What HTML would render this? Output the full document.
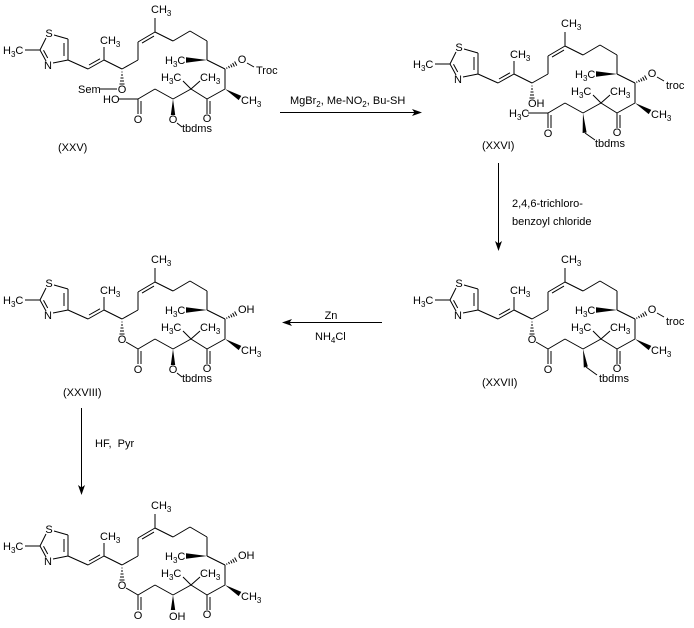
<!DOCTYPE html>
<html><head><meta charset="utf-8"><style>
html,body{margin:0;padding:0;background:#fff;}
svg{display:block;}
text{font-family:"Liberation Sans",Arial,sans-serif;font-size:11px;fill:#000;}
.s{font-size:8px;}
</style></head><body>
<svg width="694" height="628" viewBox="0 0 694 628" xmlns="http://www.w3.org/2000/svg">
<defs>
<g id="sk">
 <g stroke="#000" stroke-width="1" fill="none">
  <path d="M25,50L40,50 M40,50L46,38 M40,50L46,61 M43.5,50.3L47.7,58 M53,63L68,60 M54,35L68,39 M68,39L68,60 M64,43L64,56 M68,60L88,69 M88,69L104,60 M89,65L100,58.8 M104,60L104,47 M104,60L122,69 M122,69L138,60 M138,60L138,42 M138,42L155,32 M142,43.1L154,36.1 M155,32L155,18 M155,32L173,41 M173,41L190,31 M190,31L207,41 M207,41L207,60 M207,60L225,69 M225,69L225,89 M225,89L207,99 M207,99L207,114 M210,101L210,114 M207,99L191,89 M191,89L183,81 M191,89L200,81 M191,89L173,99 M173,99L155,89 M155,89L138,99 M138,99L138,114 M141,101L141,114"/>
  <path d="M121.5,72L122.5,72 M121,75L123,75 M120.5,78L123.5,78 M120,81L124,81 M119.5,84L124.5,84"/>
  <path d="M226.5,67.5L227.1,68.7 M228.5,65.9L229.5,68.1 M230.6,64.5L232,67.3 M232.6,63L234.4,66.6 M234.6,61.5L236.8,65.7"/>
 </g>
 <polygon points="207,60 186,57.3 186,62.7" fill="#000"/>
 <polygon points="225,89 238.7,100.1 241.3,95.9" fill="#000"/>
</g>
</defs>

<use href="#sk"/>
<g>
 <text x="3" y="54">H<tspan class="s" dy="3">3</tspan><tspan dy="-3">C</tspan></text>
 <text x="49" y="37" text-anchor="middle">S</text>
 <text x="48" y="69" text-anchor="middle">N</text>
 <text x="100" y="44">CH<tspan class="s" dy="3">3</tspan></text>
 <text x="151" y="13">CH<tspan class="s" dy="3">3</tspan></text>
 <text x="165" y="64">H<tspan class="s" dy="3">3</tspan><tspan dy="-3">C</tspan></text>
 <text x="161" y="81">H<tspan class="s" dy="3">3</tspan><tspan dy="-3">C</tspan></text>
 <text x="200" y="81">CH<tspan class="s" dy="3">3</tspan></text>
 <text x="241" y="104">CH<tspan class="s" dy="3">3</tspan></text>
 <text x="207" y="122" text-anchor="middle">O</text>
 <text x="138" y="123" text-anchor="middle">O</text>
 <text x="122" y="93" text-anchor="middle">O</text>
 <text x="78" y="93">Sem</text>
 <text x="103" y="103">HO</text>
 <text x="242" y="63" text-anchor="middle">O</text>
 <text x="256" y="74">Troc</text>
 <polygon points="173,99 170.8,115 175.2,115" fill="#000"/>
 <text x="173" y="123" text-anchor="middle">O</text>
 <text x="182" y="132">tbdms</text>
 <path d="M100,89L117,89 M119,99L138,99 M247,63L254,67 M177,123L182,127" stroke="#000" fill="none"/>
 <text x="58" y="151">(XXV)</text>
</g>

<use href="#sk" transform="translate(410,14)"/>
<g transform="translate(410,14)">
 <text x="3" y="54">H<tspan class="s" dy="3">3</tspan><tspan dy="-3">C</tspan></text>
 <text x="49" y="37" text-anchor="middle">S</text>
 <text x="48" y="69" text-anchor="middle">N</text>
 <text x="100" y="44">CH<tspan class="s" dy="3">3</tspan></text>
 <text x="151" y="13">CH<tspan class="s" dy="3">3</tspan></text>
 <text x="165" y="64">H<tspan class="s" dy="3">3</tspan><tspan dy="-3">C</tspan></text>
 <text x="161" y="81">H<tspan class="s" dy="3">3</tspan><tspan dy="-3">C</tspan></text>
 <text x="200" y="81">CH<tspan class="s" dy="3">3</tspan></text>
 <text x="241" y="104">CH<tspan class="s" dy="3">3</tspan></text>
 <text x="207" y="122" text-anchor="middle">O</text>
 <text x="138" y="123" text-anchor="middle">O</text>
 <text x="118" y="93">OH</text>
 <text x="99" y="103">H<tspan class="s" dy="3">3</tspan><tspan dy="-3">C</tspan></text>
 <text x="242" y="63" text-anchor="middle">O</text>
 <text x="256" y="75">troc</text>
 <polygon points="173,99 172.6,119 176.6,118.5" fill="#000"/>
 <text x="185" y="133">tbdms</text>
 <path d="M118,99L138,99 M247,63L254,67 M175,119L185,126" stroke="#000" fill="none"/>
</g>
<text x="482" y="149">(XXVI)</text>

<use href="#sk" transform="translate(0,250)"/>
<g transform="translate(0,250)">
 <text x="3" y="54">H<tspan class="s" dy="3">3</tspan><tspan dy="-3">C</tspan></text>
 <text x="49" y="37" text-anchor="middle">S</text>
 <text x="48" y="69" text-anchor="middle">N</text>
 <text x="100" y="44">CH<tspan class="s" dy="3">3</tspan></text>
 <text x="151" y="13">CH<tspan class="s" dy="3">3</tspan></text>
 <text x="165" y="64">H<tspan class="s" dy="3">3</tspan><tspan dy="-3">C</tspan></text>
 <text x="161" y="81">H<tspan class="s" dy="3">3</tspan><tspan dy="-3">C</tspan></text>
 <text x="200" y="81">CH<tspan class="s" dy="3">3</tspan></text>
 <text x="241" y="104">CH<tspan class="s" dy="3">3</tspan></text>
 <text x="207" y="122" text-anchor="middle">O</text>
 <text x="138" y="123" text-anchor="middle">O</text>
 <text x="122" y="93" text-anchor="middle">O</text>
 <text x="238" y="63">OH</text>
 <polygon points="173,99 170.8,115 175.2,115" fill="#000"/>
 <text x="173" y="123" text-anchor="middle">O</text>
 <text x="182" y="132">tbdms</text>
 <path d="M126,92L138,99 M177,123L182,127" stroke="#000" fill="none"/>
</g>
<text x="63" y="396">(XXVIII)</text>

<use href="#sk" transform="translate(410,250)"/>
<g transform="translate(410,250)">
 <text x="3" y="54">H<tspan class="s" dy="3">3</tspan><tspan dy="-3">C</tspan></text>
 <text x="49" y="37" text-anchor="middle">S</text>
 <text x="48" y="69" text-anchor="middle">N</text>
 <text x="100" y="44">CH<tspan class="s" dy="3">3</tspan></text>
 <text x="151" y="13">CH<tspan class="s" dy="3">3</tspan></text>
 <text x="165" y="64">H<tspan class="s" dy="3">3</tspan><tspan dy="-3">C</tspan></text>
 <text x="161" y="81">H<tspan class="s" dy="3">3</tspan><tspan dy="-3">C</tspan></text>
 <text x="200" y="81">CH<tspan class="s" dy="3">3</tspan></text>
 <text x="241" y="104">CH<tspan class="s" dy="3">3</tspan></text>
 <text x="207" y="122" text-anchor="middle">O</text>
 <text x="138" y="123" text-anchor="middle">O</text>
 <text x="122" y="93" text-anchor="middle">O</text>
 <text x="242" y="63" text-anchor="middle">O</text>
 <text x="256" y="75">troc</text>
 <polygon points="173,99 173.8,117.5 177.8,116.5" fill="#000"/>
 <text x="189" y="132">tbdms</text>
 <path d="M126,92L138,99 M247,63L254,67 M176,117L187,125" stroke="#000" fill="none"/>
</g>
<text x="482" y="386">(XXVII)</text>

<use href="#sk" transform="translate(0,496)"/>
<g transform="translate(0,496)">
 <text x="3" y="54">H<tspan class="s" dy="3">3</tspan><tspan dy="-3">C</tspan></text>
 <text x="49" y="37" text-anchor="middle">S</text>
 <text x="48" y="69" text-anchor="middle">N</text>
 <text x="100" y="44">CH<tspan class="s" dy="3">3</tspan></text>
 <text x="151" y="13">CH<tspan class="s" dy="3">3</tspan></text>
 <text x="165" y="64">H<tspan class="s" dy="3">3</tspan><tspan dy="-3">C</tspan></text>
 <text x="161" y="81">H<tspan class="s" dy="3">3</tspan><tspan dy="-3">C</tspan></text>
 <text x="200" y="81">CH<tspan class="s" dy="3">3</tspan></text>
 <text x="241" y="104">CH<tspan class="s" dy="3">3</tspan></text>
 <text x="207" y="122" text-anchor="middle">O</text>
 <text x="138" y="123" text-anchor="middle">O</text>
 <text x="122" y="93" text-anchor="middle">O</text>
 <text x="238" y="63">OH</text>
 <polygon points="173,99 170.8,114 175.2,114" fill="#000"/>
 <text x="169" y="124">OH</text>
 <path d="M126,92L138,99" stroke="#000" fill="none"/>
</g>

<g stroke="#000" stroke-width="1" fill="none">
 <path d="M280,112.5L415,112.5"/>
 <path d="M498.5,163L498.5,244"/>
 <path d="M382,322.5L289,322.5"/>
 <path d="M81.5,408L81.5,488"/>
</g>
<g fill="#000">
 <polygon points="422,112.5 412,109 414.5,112.5 412,116"/>
 <polygon points="498.5,251 495,241 498.5,243.5 502,241"/>
 <polygon points="282,322.5 292,319 289.5,322.5 292,326"/>
 <polygon points="81.5,495 78,485 81.5,487.5 85,485"/>
</g>

<text x="290" y="104">MgBr<tspan class="s" dy="3">2</tspan><tspan dy="-3">, Me-NO</tspan><tspan class="s" dy="3">2</tspan><tspan dy="-3">, Bu-SH</tspan></text>
<text x="512" y="207">2,4,6-trichloro-</text>
<text x="512" y="225">benzoyl chloride</text>
<text x="331" y="319" text-anchor="middle">Zn</text>
<text x="315" y="340">NH<tspan class="s" dy="3">4</tspan><tspan dy="-3">Cl</tspan></text>
<text x="95" y="447">HF,&#160; Pyr</text>
</svg>
</body></html>
